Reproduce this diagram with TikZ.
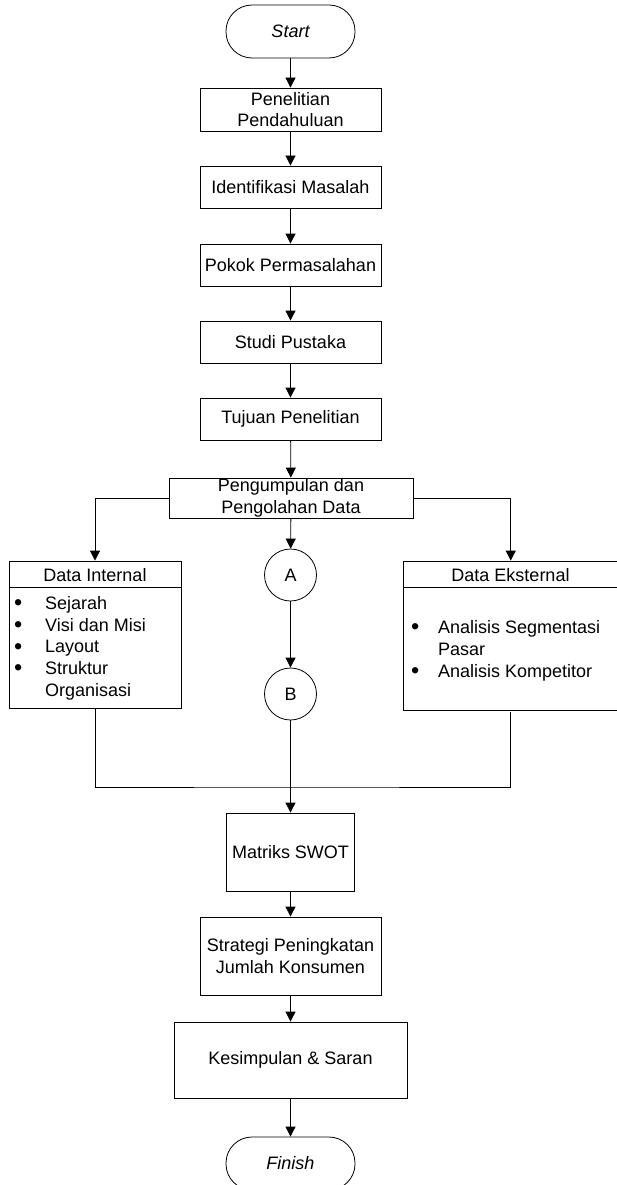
\documentclass[tikz,border=0pt]{standalone}
\usepackage{fontspec}
\setmainfont{Liberation Sans}
\usetikzlibrary{arrows.meta,calc}
\newcommand\myfs{\fontsize{18}{21.75}\selectfont}
\newcommand\mybul{\smash{\raisebox{-1.2pt}{\scalebox{1.3}{\textbullet}}}}
\tikzset{
  box/.style={draw, line width=0.8pt, inner sep=0pt, align=center, font=\myfs},
  term/.style={box, rounded corners=26pt, font=\myfs\itshape, minimum width=129pt, minimum height=53pt},
  conn/.style={circle, draw, line width=0.8pt, minimum size=52pt, inner sep=0pt, font=\myfs},
  txt/.style={inner sep=0pt, font=\myfs},
  arr/.style={-{Triangle[width=10pt,length=10pt]}, line width=0.8pt},
  ln/.style={line width=0.8pt}
}
\begin{document}
\begin{tikzpicture}[x=1pt,y=-1pt]
\useasboundingbox (0,0) rectangle (617,1185);
\clip (0,0) rectangle (617,1185);
% main chain
\node[term] (start) at (290.5,31.5) {Start};
\node[box, minimum width=181pt, minimum height=43pt] (pp) at (290.5,109.5) {Penelitian\\Pendahuluan};
\node[box, minimum width=181pt, minimum height=42pt] (im) at (290.5,187) {Identifikasi Masalah};
\node[box, minimum width=181pt, minimum height=42pt] (pk) at (290.5,265) {Pokok Permasalahan};
\node[box, minimum width=181pt, minimum height=42pt] (sp) at (290.5,342) {Studi Pustaka};
\node[box, minimum width=181pt, minimum height=42pt] (tp) at (290.5,419) {Tujuan Penelitian};
\node[box, minimum width=244pt, minimum height=40pt] (pg) at (291,498) {Pengumpulan dan\\Pengolahan Data};
% data internal
\node[box, minimum width=172pt, minimum height=147pt] (di) at (95,634.5) {};
\node[txt] (dih) at (95,575) {Data Internal};
\draw[ln] ($(di.north west)+(0,27)$) -- ($(di.north east)+(0,27)$);
\node[txt, anchor=west] (dil) at (14,648.5) {\begin{tabular}{@{}p{31pt}@{}l@{}}
\mybul & Sejarah\\
\mybul & Visi dan Misi\\
\mybul & Layout\\
\mybul & Struktur\\
 & Organisasi
\end{tabular}};
% data eksternal
\node[box, minimum width=215.5pt, minimum height=149pt] (de) at (510.75,635.5) {};
\node[txt] (deh) at (510.5,575) {Data Eksternal};
\draw[ln] ($(de.north west)+(0,27)$) -- ($(de.north east)+(0,27)$);
\node[txt, anchor=west] (del) at (411,651) {\begin{tabular}{@{}p{27pt}@{}l@{}}
\mybul & Analisis Segmentasi\\
 & Pasar\\
\mybul & Analisis Kompetitor
\end{tabular}};
% connectors A, B
\node[conn] (a) at (290.5,575) {A};
\node[conn] (b) at (290.5,694) {B};
% lower chain
\node[box, minimum width=128pt, minimum height=78pt] (ms) at (290.5,852) {Matriks SWOT};
\node[box, minimum width=181pt, minimum height=78pt] (st) at (290.5,956) {Strategi Peningkatan\\Jumlah Konsumen};
\node[box, minimum width=233pt, minimum height=76pt] (ks) at (290.5,1060) {Kesimpulan \& Saran};
\node[term] (fin) at (290.5,1163.5) {Finish};
\coordinate (j) at (290.5,787);
% arrows
\draw[arr] (start) -- (pp);
\draw[arr] (pp) -- (im);
\draw[arr] (im) -- (pk);
\draw[arr] (pk) -- (sp);
\draw[arr] (sp) -- (tp);
\draw[arr] (tp) -- (pg);
\draw[arr] (pg.west) -| (di.north);
\draw[arr] (pg.east) -| (de.north);
\draw[arr] (pg) -- (a);
\draw[arr] (a) -- (b);
\draw[ln] (di.south) |- (j) -| ($(de.south)+(0,2)$);
\draw[arr] (b) -- (ms);
\draw[arr] (ms) -- (st);
\draw[arr] (st) -- (ks);
\draw[arr] (ks) -- (fin);
\end{tikzpicture}
\end{document}
